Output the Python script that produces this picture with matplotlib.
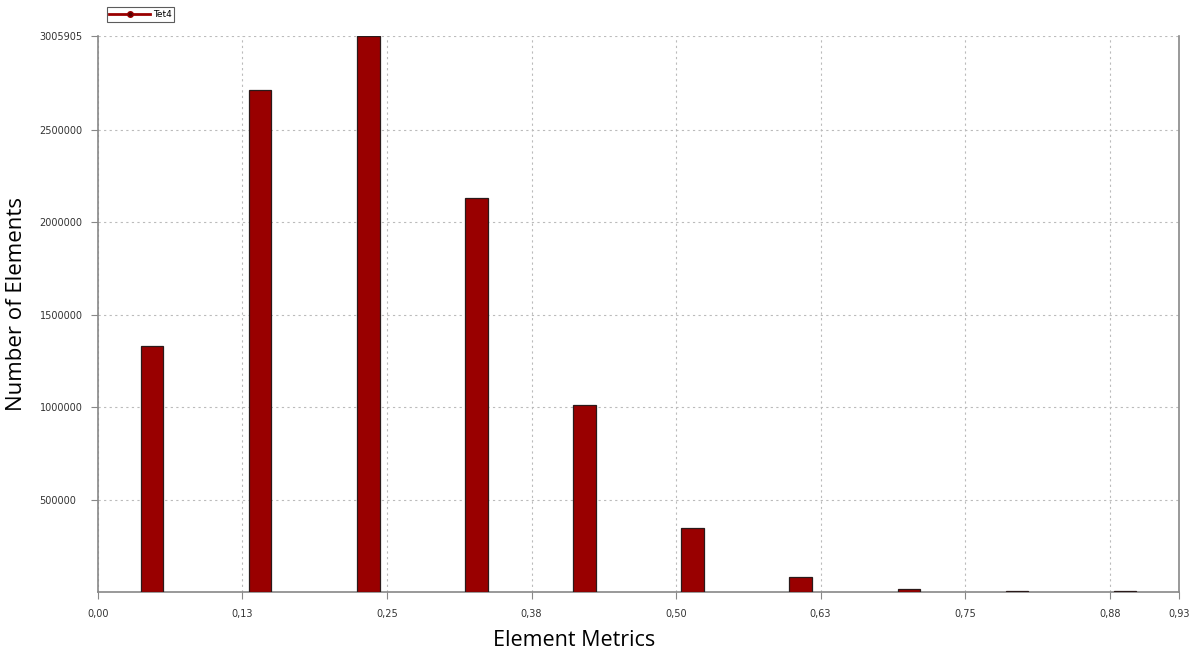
import numpy as np
import matplotlib.pyplot as plt
from matplotlib.lines import Line2D

# bin centres (element metric) and counts
metric = [0.0468, 0.1403, 0.2338, 0.3273, 0.4208, 0.5143, 0.6078, 0.7013, 0.7948, 0.8883]
counts = [1330000, 2714000, 3005905, 2130000, 1011000, 344000, 83000, 17000, 7000, 3000]
xticks = [0.0, 0.125, 0.25, 0.375, 0.5, 0.625, 0.75, 0.875, 0.935]
xlabels = ['0,00', '0,13', '0,25', '0,38', '0,50', '0,63', '0,75', '0,88', '0,93']
yticks = [500000, 1000000, 1500000, 2000000, 2500000, 3005905]

fig = plt.figure(figsize=(11.93, 6.54), dpi=100)
ax = fig.add_axes([0.0821, 0.0948, 0.9062, 0.850])

ax.bar(metric, counts, width=0.0195, color='#990000', edgecolor='#2a1a1a', linewidth=0.9, zorder=3)

ax.set_xlim(0, 0.935)
ax.set_ylim(0, 3005905)
ax.set_xticks(xticks)
ax.set_xticklabels(xlabels)
ax.set_yticks(yticks)
ax.set_yticklabels([str(v) for v in yticks])
ax.tick_params(axis='both', labelsize=7, colors='#888888', labelcolor='#333333', length=5, width=0.8)
for lab in ax.get_yticklabels():
    lab.set_horizontalalignment('left')
ax.tick_params(axis='y', pad=37)
ax.tick_params(axis='x', pad=7)

ax.grid(True, linestyle=(0, (2, 3)), color='#bbbbbb', linewidth=0.8, zorder=0)
ax.spines['top'].set_visible(False)
for s in ['left', 'bottom', 'right']:
    ax.spines[s].set_color('#888888')
    ax.spines[s].set_linewidth(1.2)

# axis titles placed on the figure
fig.text(0.0135, 0.535, 'Number of Elements', fontsize=16, fontfamily='Open Sans',
         rotation=90, ha='center', va='center')
fig.text(0.481, 0.021, 'Element Metrics', fontsize=15.5, fontfamily='Open Sans',
         ha='center', va='center')

handle = Line2D([], [], color='#990000', marker='o', markersize=4, markerfacecolor='#550000', linewidth=2)
leg = ax.legend([handle], ['Tet4'], loc='lower left', bbox_to_anchor=(0.004, 1.018), fontsize=6.5,
                frameon=True, fancybox=False, edgecolor='#333333', handlelength=4.5,
                borderpad=0.3, handletextpad=0.3)
leg.get_frame().set_linewidth(0.8)

fig.savefig('out.png', dpi=100)
